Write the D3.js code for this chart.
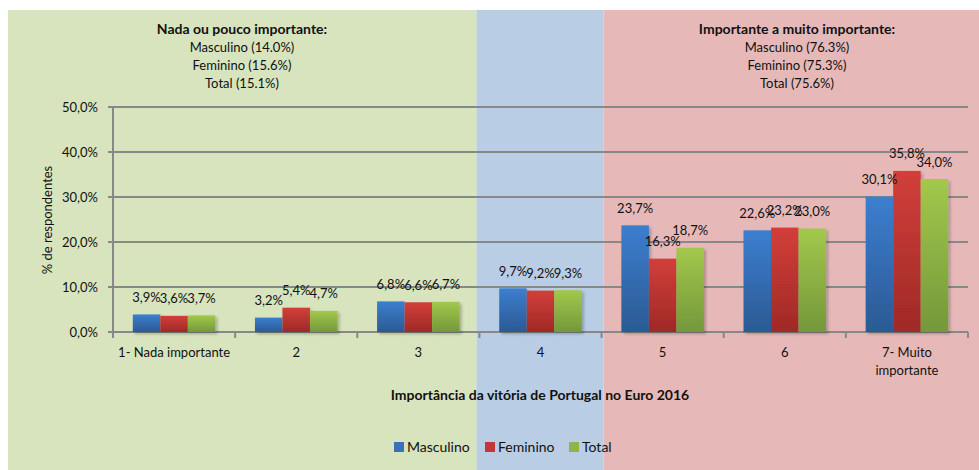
<!DOCTYPE html>
<html lang="pt">
<head>
<meta charset="utf-8">
<style>
  body { margin: 0; background: #fff; }
  svg text { font-family: Lato, "Liberation Sans", sans-serif; fill: #111; }
</style>
</head>
<body>
<svg width="979" height="470"></svg>
<script src="https://d3js.org/d3.v7.min.js"></script>
<script>
var categories = ["1- Nada importante", "2", "3", "4", "5", "6", "7- Muito importante"];
var series = ["Masculino", "Feminino", "Total"];
var masculino = [3.9, 3.2, 6.8, 9.7, 23.7, 22.6, 30.1];
var feminino = [3.6, 5.4, 6.6, 9.2, 16.3, 23.2, 35.8];
var total = [3.7, 4.7, 6.7, 9.3, 18.7, 23.0, 34.0];
var yTicks = [0, 10, 20, 30, 40, 50];
var leftNote = ["Nada ou pouco importante:", "Masculino (14.0%)", "Feminino (15.6%)", "Total (15.1%)"];
var rightNote = ["Importante a muito importante:", "Masculino (76.3%)", "Feminino (75.3%)", "Total (75.6%)"];

var svg = d3.select("svg");
var values = { Masculino: masculino, Feminino: feminino, Total: total };
var rows = categories.map(function(c, i) {
  return { cat: c, vals: series.map(function(s) { return { s: s, v: values[s][i] }; }) };
});

var fmt = function(d) { return d.toFixed(1).replace(".", ",") + "%"; };

var x = d3.scaleBand().domain(categories).range([113, 968]);
var x1 = d3.scaleBand().domain(series).range([0, x.bandwidth()]).paddingOuter(0.72);
var y = d3.scaleLinear().domain([0, 50]).range([332, 107]);

// gradients
var grads = {
  Masculino: ["#3c7ecf", "#2b5a94"],
  Feminino: ["#d23f3a", "#9f2926"],
  Total: ["#a2c84c", "#74983a"]
};
var flat = { Masculino: "#3a70b8", Feminino: "#c23a37", Total: "#8fb54a" };
var defs = svg.append("defs");
series.forEach(function(s, i) {
  var g = defs.append("linearGradient").attr("id", "g" + i)
    .attr("x1", 0).attr("y1", 0).attr("x2", 0).attr("y2", 1);
  g.append("stop").attr("offset", "0%").attr("stop-color", grads[s][0]);
  g.append("stop").attr("offset", "100%").attr("stop-color", grads[s][1]);
});
var sh = defs.append("filter").attr("id", "shadow").attr("x", "-20%").attr("y", "-20%").attr("width", "150%").attr("height", "150%");
sh.append("feDropShadow").attr("dx", 2).attr("dy", 2).attr("stdDeviation", 1.5).attr("flood-color", "#000").attr("flood-opacity", 0.25);

// background zones
var zones = [
  { x0: 8, x1: x("4") - 3, c: "#d7e4bd" },
  { x0: x("4") - 3, x1: x("5") + 2, c: "#b9cde5" },
  { x0: x("5") + 2, x1: 979, c: "#e6b9b8" }
];
svg.selectAll("rect.zone").data(zones).enter().append("rect")
  .attr("class", "zone")
  .attr("x", function(d) { return d.x0; })
  .attr("y", 10)
  .attr("width", function(d) { return d.x1 - d.x0; })
  .attr("height", 460)
  .attr("fill", function(d) { return d.c; });

// gridlines
svg.append("g").selectAll("line").data(yTicks).enter().append("line")
  .attr("x1", 108).attr("x2", 968)
  .attr("y1", function(d) { return y(d); })
  .attr("y2", function(d) { return y(d); })
  .attr("stroke", "#888").attr("stroke-width", 2);

// y axis line
svg.append("line").attr("x1", 113).attr("x2", 113).attr("y1", y(50)).attr("y2", y(0) + 5)
  .attr("stroke", "#888").attr("stroke-width", 2);

// x ticks
var bounds = categories.map(function(c) { return x(c); }).concat([968]);
svg.append("g").selectAll("line").data(bounds).enter().append("line")
  .attr("x1", function(d) { return d; }).attr("x2", function(d) { return d; })
  .attr("y1", y(0)).attr("y2", y(0) + 6)
  .attr("stroke", "#888").attr("stroke-width", 2);

// y labels
svg.append("g").selectAll("text").data(yTicks).enter().append("text")
  .attr("x", 98).attr("y", function(d) { return y(d); }).attr("dy", "0.35em")
  .attr("text-anchor", "end").style("font-size", "13px")
  .text(fmt);

// bars
var groups = svg.append("g").selectAll("g").data(rows).enter().append("g")
  .attr("transform", function(d) { return "translate(" + x(d.cat) + ",0)"; });

groups.selectAll("rect").data(function(d) { return d.vals; }).enter().append("rect")
  .attr("x", function(d) { return x1(d.s); })
  .attr("width", x1.bandwidth())
  .attr("y", function(d) { return y(d.v); })
  .attr("height", function(d) { return y(0) - y(d.v); })
  .attr("fill", function(d) { return "url(#g" + series.indexOf(d.s) + ")"; })
  .attr("filter", "url(#shadow)");

groups.selectAll("text").data(function(d) { return d.vals; }).enter().append("text")
  .attr("x", function(d) { return x1(d.s) + x1.bandwidth() / 2; })
  .attr("y", function(d) { return y(d.v) - 17; })
  .attr("dy", "0.35em")
  .attr("text-anchor", "middle").style("font-size", "13px")
  .text(function(d) { return fmt(d.v); });

// category labels
svg.append("g").selectAll("text").data(categories).enter().append("text")
  .attr("x", function(d) { return x(d) + x.bandwidth() / 2; })
  .attr("y", 352).attr("dy", "0.35em")
  .attr("text-anchor", "middle").style("font-size", "13px")
  .each(function(d) {
    var t = d3.select(this);
    if (d.indexOf("7-") === 0) {
      t.append("tspan").attr("x", x(d) + x.bandwidth() / 2).text("7- Muito");
      t.append("tspan").attr("x", x(d) + x.bandwidth() / 2).attr("dy", 18).text("importante");
    } else {
      t.text(d);
    }
  });

// axis titles
svg.append("text").attr("transform", "translate(47,220) rotate(-90)")
  .attr("dy", "0.35em").attr("text-anchor", "middle").style("font-size", "13px")
  .text("% de respondentes");
svg.append("text").attr("x", 540).attr("y", 395).attr("dy", "0.35em")
  .attr("text-anchor", "middle").style("font-size", "14px").style("font-weight", "bold")
  .text("Importância da vitória de Portugal no Euro 2016");

// notes at top
function note(lines, cx) {
  svg.append("g").selectAll("text").data(lines).enter().append("text")
    .attr("x", cx).attr("y", function(d, i) { return 29 + i * 18.3; }).attr("dy", "0.35em")
    .attr("text-anchor", "middle")
    .style("font-size", function(d, i) { return i === 0 ? "14px" : "13px"; })
    .style("font-weight", function(d, i) { return i === 0 ? "bold" : "normal"; })
    .text(function(d) { return d; });
}
note(leftNote, 242);
note(rightNote, 797);

// legend
var lx = [394, 485, 569];
var leg = svg.append("g").selectAll("g").data(series).enter().append("g")
  .attr("transform", function(d, i) { return "translate(" + lx[i] + ",447)"; });
leg.append("rect").attr("x", 0).attr("y", -5).attr("width", 10).attr("height", 10)
  .attr("fill", function(d) { return flat[d]; });
leg.append("text").attr("x", 13).attr("dy", "0.35em").style("font-size", "14px")
  .text(function(d) { return d; });
</script>
</body>
</html>
